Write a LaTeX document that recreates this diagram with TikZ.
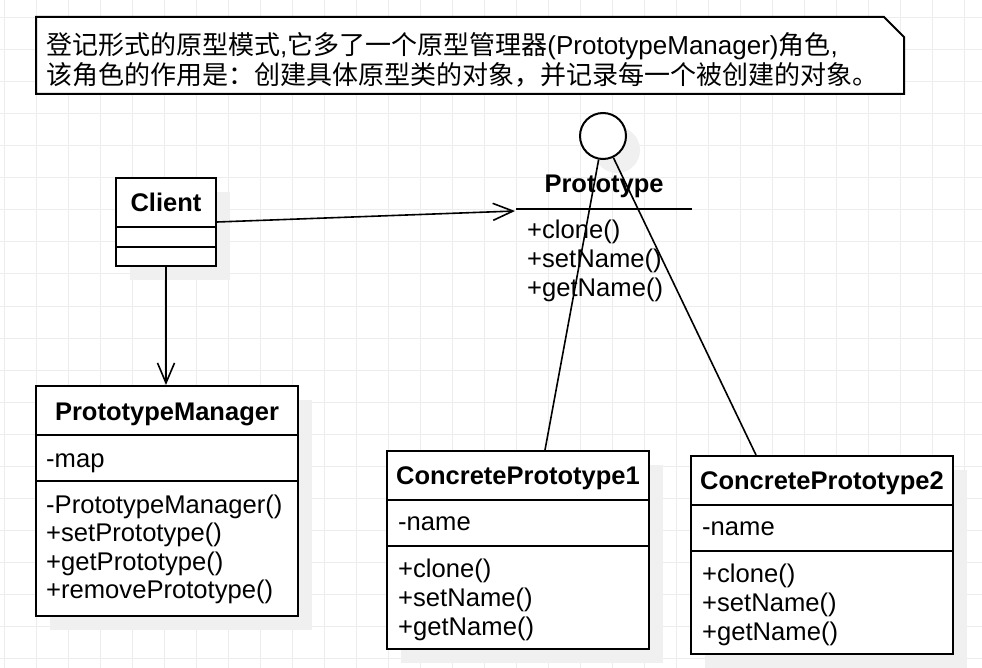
\documentclass[tikz,border=0pt]{standalone}
\usepackage{fontspec}
\setmainfont{Liberation Sans}
\newfontfamily\cjk{Noto Sans CJK SC}
\newfontfamily\lat{Liberation Sans}
\usetikzlibrary{arrows.meta,shadows}
\tikzset{
  gridline/.style={draw=black!7, line width=1pt},
  umlbox/.style={draw, line width=2pt, fill=white, rectangle, inner sep=0pt,
    drop shadow={shadow xshift=14pt, shadow yshift=-14pt, fill=black!6, opacity=1}},
  divider/.style={line width=2pt},
  conn/.style={line width=1.6pt},
  openhead/.style={-{Straight Barb[length=20pt,width=17pt]}},
  ttl/.style={anchor=base, inner sep=0pt, font=\fontsize{25.5}{29}\selectfont\bfseries},
  mem/.style={anchor=base west, inner sep=0pt, font=\fontsize{25.6}{29}\selectfont},
  notetext/.style={anchor=base west, inner sep=0pt, font=\cjk\fontsize{26}{30}\selectfont},
}
\begin{document}
\begin{tikzpicture}[x=1pt,y=-1pt]
\useasboundingbox (0,0) rectangle (982,668);
\fill[white] (0,0) rectangle (982,668);
\foreach \x in {4,36,...,980} \draw[gridline] (\x,0) -- (\x,668);
\foreach \y in {18,50,...,668} \draw[gridline] (0,\y) -- (982,\y);

% note
\draw[line width=2pt, fill=white] (36,17) -- (884,17) -- (904,37) -- (904,94) -- (36,94) -- cycle;
\node[notetext] (note1) at (46,55) {登记形式的原型模式{\lat,}它多了一个原型管理器{\lat(PrototypeManager)}角色{\lat,}};
\node[notetext] (note2) at (46,85) {该角色的作用是：创建具体原型类的对象，并记录每一个被创建的对象。};

% Client
\node[umlbox, minimum width=100pt, minimum height=88pt] (client) at (166,222) {};
\draw[divider] ([yshift=-50pt]client.north west) -- ([yshift=-50pt]client.north east);
\draw[divider] ([yshift=-70pt]client.north west) -- ([yshift=-70pt]client.north east);
\node[ttl] (clientname) at (166,212) {Client};

% PrototypeManager
\node[umlbox, minimum width=262pt, minimum height=230pt] (pm) at (167,501) {};
\draw[divider] ([yshift=-50pt]pm.north west) -- ([yshift=-50pt]pm.north east);
\draw[divider] ([yshift=-96pt]pm.north west) -- ([yshift=-96pt]pm.north east);
\node[ttl] (pmname) at (167,420) {PrototypeManager};
\node[mem] (pm1) at (46,467) {-map};
\node[mem] (pm2) at (46,513) {-PrototypeManager()};
\node[mem] (pm3) at (46,541.5) {+setPrototype()};
\node[mem] (pm4) at (46,570) {+getPrototype()};
\node[mem] (pm5) at (46,598.5) {+removePrototype()};

% Prototype interface
\node[circle, draw, line width=2pt, fill=white, minimum size=46pt, inner sep=0pt,
  drop shadow={shadow xshift=14pt, shadow yshift=-14pt, fill=black!6, opacity=1}] (proto) at (603,136) {};
\node[ttl] (protoname) at (604,193) {Prototype};
\draw[divider] (516,209) -- (692,209);
\node[mem] (pr1) at (527,239) {+clone()};
\node[mem] (pr2) at (527,268) {+setName()};
\node[mem] (pr3) at (527,297) {+getName()};
\coordinate (protoin) at (515,211);

% ConcretePrototype1
\node[umlbox, minimum width=262pt, minimum height=198pt] (cp1) at (518,550) {};
\draw[divider] ([yshift=-50pt]cp1.north west) -- ([yshift=-50pt]cp1.north east);
\draw[divider] ([yshift=-96pt]cp1.north west) -- ([yshift=-96pt]cp1.north east);
\node[ttl] (cp1name) at (518,484) {ConcretePrototype1};
\node[mem] (c11) at (398,530) {-name};
\node[mem] (c12) at (398,577) {+clone()};
\node[mem] (c13) at (398,606) {+setName()};
\node[mem] (c14) at (398,635) {+getName()};
\coordinate (cp1top) at ([xshift=27pt]cp1.north);

% ConcretePrototype2
\node[umlbox, minimum width=262pt, minimum height=198pt] (cp2) at (822,555) {};
\draw[divider] ([yshift=-50pt]cp2.north west) -- ([yshift=-50pt]cp2.north east);
\draw[divider] ([yshift=-96pt]cp2.north west) -- ([yshift=-96pt]cp2.north east);
\node[ttl] (cp2name) at (822,489) {ConcretePrototype2};
\node[mem] (c21) at (702,535) {-name};
\node[mem] (c22) at (702,582) {+clone()};
\node[mem] (c23) at (702,611) {+setName()};
\node[mem] (c24) at (702,640) {+getName()};
\coordinate (cp2top) at ([xshift=-66pt]cp2.north);

% connectors
\draw[conn, openhead] (client.east) -- (protoin);
\draw[conn, openhead] (client.south) -- (client.south |- pm.north);
\draw[conn] (proto) -- (cp1top);
\draw[conn] (proto) -- (cp2top);
\end{tikzpicture}
\end{document}
